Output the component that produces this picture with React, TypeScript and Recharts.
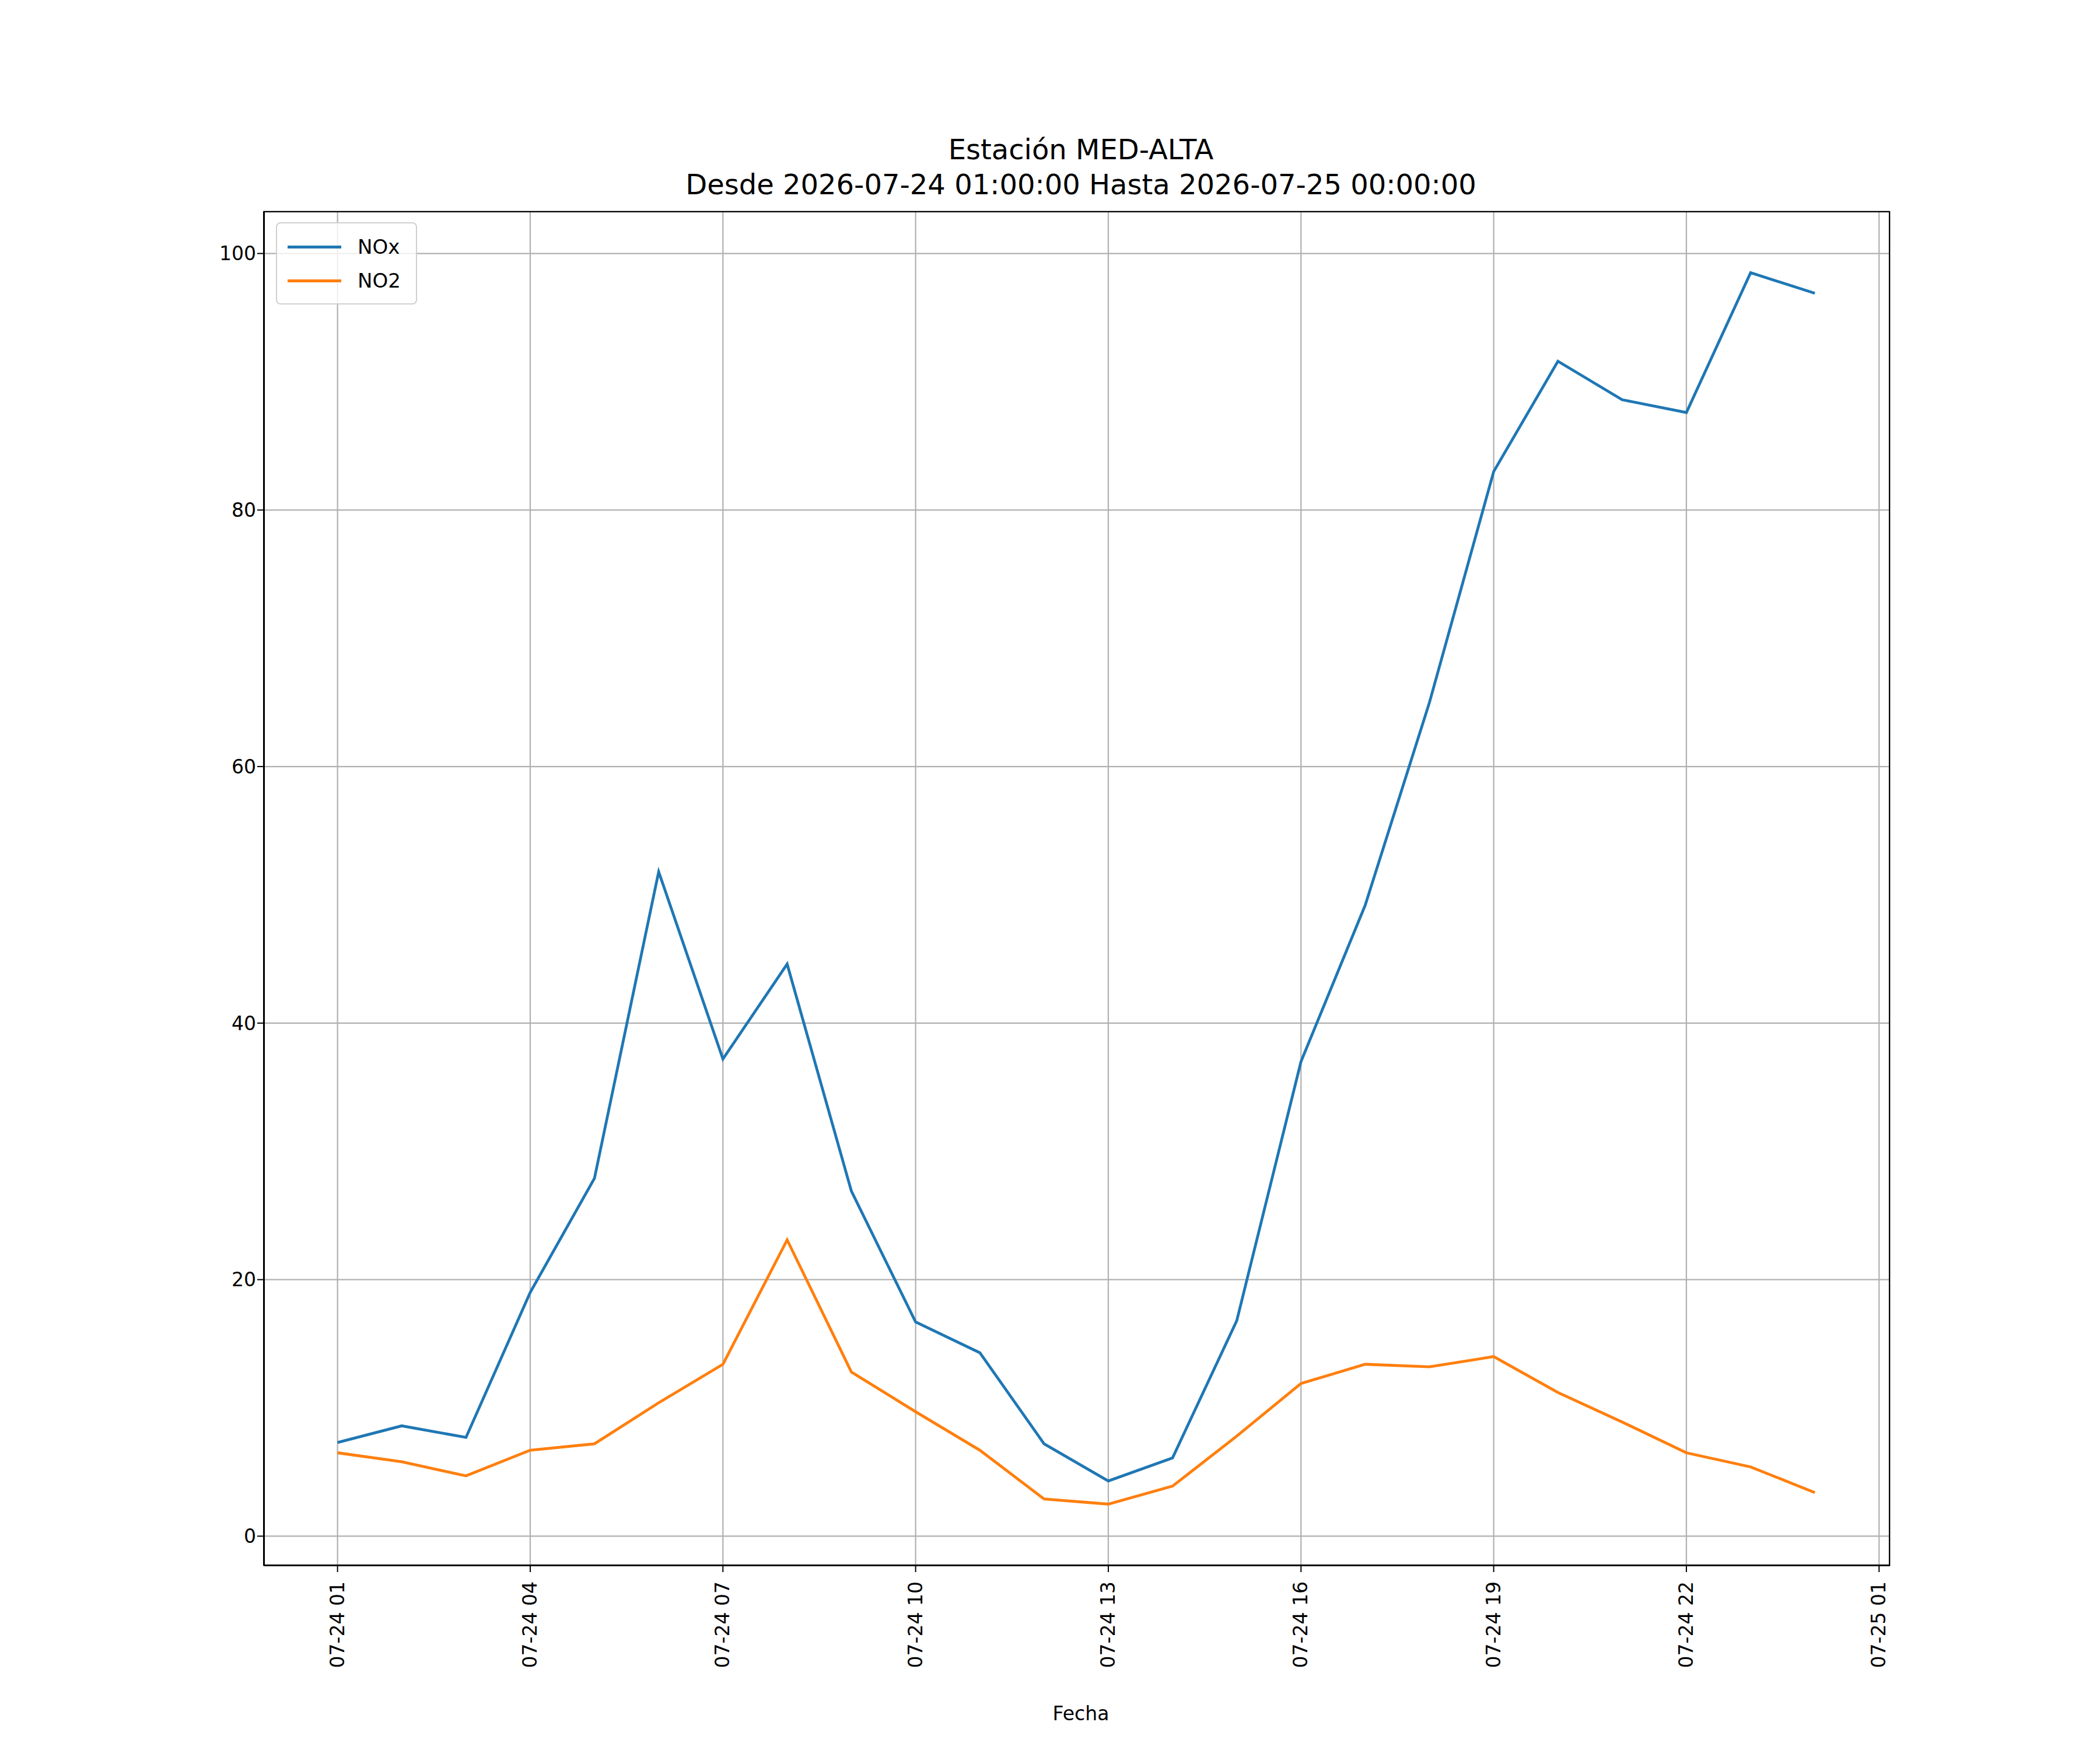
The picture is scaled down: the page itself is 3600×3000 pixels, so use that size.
import { LineChart, Line, XAxis, YAxis, CartesianGrid } from "recharts";

const hours = [0, 1, 2, 3, 4, 5, 6, 7, 8, 9, 10, 11, 12, 13, 14, 15, 16, 17, 18, 19, 20, 21, 22, 23];
const noxValues = [7.3, 8.6, 7.7, 19.0, 27.9, 51.8, 37.2, 44.6, 26.9, 16.7, 14.3, 7.2, 4.3, 6.1, 16.8, 37.0, 49.2, 65.0, 83.0, 91.6, 88.6, 87.6, 98.5, 96.9];
const no2Values = [6.5, 5.8, 4.7, 6.7, 7.2, 10.4, 13.4, 23.1, 12.8, 9.7, 6.7, 2.9, 2.5, 3.9, 7.8, 11.9, 13.4, 13.2, 14.0, 11.2, 8.9, 6.5, 5.4, 3.4];
const xTicks = [0, 3, 6, 9, 12, 15, 18, 21, 24];
const xTickLabels = ["07-24 01", "07-24 04", "07-24 07", "07-24 10", "07-24 13", "07-24 16", "07-24 19", "07-24 22", "07-25 01"];
const yTicks = [0, 20, 40, 60, 80, 100];

const data = hours.map((h, i) => ({ h, nox: noxValues[i], no2: no2Values[i] }));

const W = 3600;
const H = 3000;
const plot = { left: 452, right: 3240, top: 362, bottom: 2684 };
const font = "'DejaVu Sans', sans-serif";
const BLUE = "#1f77b4";
const ORANGE = "#ff7f0e";
const CENTER = 1853;

const XTick = (props: any) => {
  const { x, y, payload } = props;
  const i = xTicks.indexOf(payload.value);
  return (
    <text x={x + 11} y={y + 14} transform={`rotate(-90 ${x + 11} ${y + 14})`} textAnchor="end" fontSize={33} fontFamily={font} fill="#000">
      {xTickLabels[i]}
    </text>
  );
};

export default function App() {
  return (
    <div style={{ position: "absolute", left: 0, top: 0, width: W, height: H, background: "#fff", fontFamily: font }}>
      <div style={{ position: "absolute", top: 226, width: 2000, left: CENTER - 1000, textAlign: "center", fontSize: 48, lineHeight: "60px" }}>
        Estación MED-ALTA
        <br />
        Desde 2026-07-24 01:00:00 Hasta 2026-07-25 00:00:00
      </div>
      <LineChart
        width={W}
        height={H}
        data={data}
        margin={{ top: plot.top, right: W - plot.right, left: plot.left - 100, bottom: H - plot.bottom - 250 }}
      >
        <CartesianGrid stroke="#b0b0b0" strokeWidth={2.2} />
        <XAxis
          dataKey="h"
          type="number"
          domain={[-1.15, 24.17]}
          ticks={xTicks}
          height={250}
          interval={0}
          tick={<XTick />}
          tickSize={11}
          stroke="#000"
          strokeWidth={2}
          tickLine={{ stroke: "#000", strokeWidth: 2 }}
          allowDataOverflow
        />
        <YAxis
          type="number"
          domain={[-2.3, 103.3]}
          ticks={yTicks}
          width={100}
          tickSize={11}
          tick={{ fontSize: 33, fontFamily: font, fill: "#000" }}
          stroke="#000"
          strokeWidth={2}
          allowDataOverflow
        />
        <Line dataKey="nox" stroke={BLUE} strokeWidth={4.8} dot={false} isAnimationActive={false} />
        <Line dataKey="no2" stroke={ORANGE} strokeWidth={4.8} dot={false} isAnimationActive={false} />
      </LineChart>
      <div style={{ position: "absolute", left: plot.left, top: plot.top, width: plot.right - plot.left, height: plot.bottom - plot.top, border: "2px solid #000", boxSizing: "border-box", pointerEvents: "none" }} />
      <div style={{ position: "absolute", left: 473, top: 381, width: 242, height: 141, border: "2px solid #d0d0d0", borderRadius: 8, boxSizing: "border-box", background: "rgba(255,255,255,0.8)", fontSize: 34 }}>
        {[["NOx", BLUE], ["NO2", ORANGE]].map(([name, c], i) => (
          <div key={name} style={{ position: "absolute", left: 18, top: 18 + i * 58, display: "flex", alignItems: "center", height: 44 }}>
            <div style={{ width: 92, height: 5, background: c, marginRight: 28 }} />
            <span>{name}</span>
          </div>
        ))}
      </div>
      <div style={{ position: "absolute", top: 2918, left: CENTER - 300, width: 600, textAlign: "center", fontSize: 33 }}>Fecha</div>
    </div>
  );
}
